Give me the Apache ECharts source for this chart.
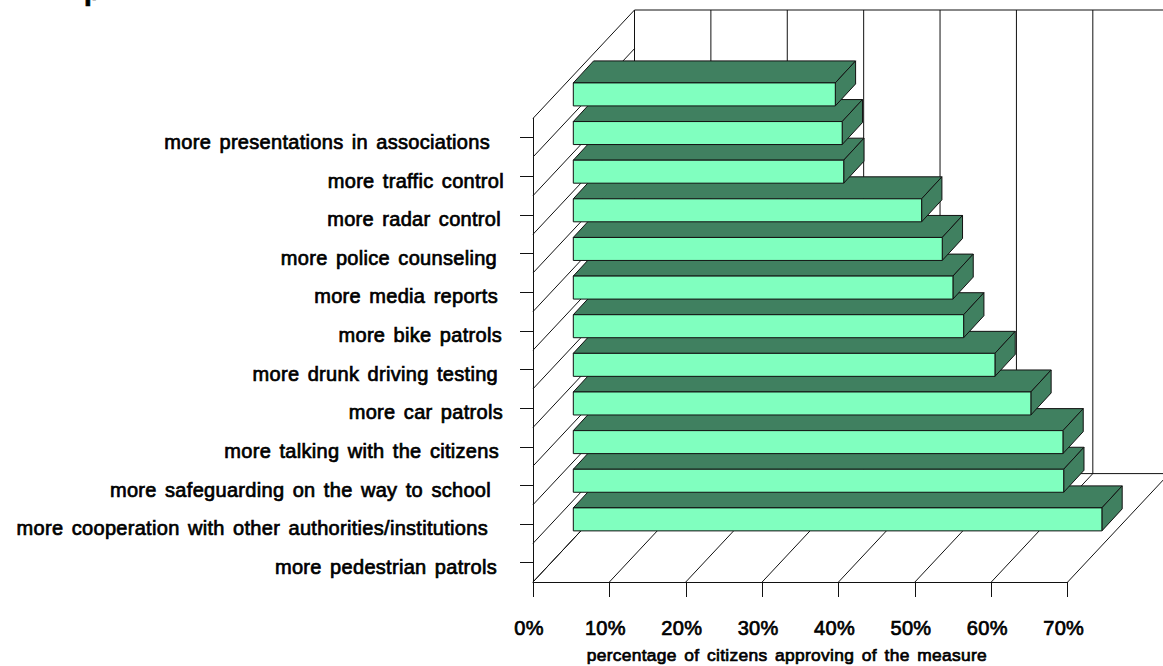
<!DOCTYPE html>
<html><head><meta charset="utf-8">
<style>html,body{margin:0;padding:0;background:#fff;overflow:hidden}#c{width:1163px;height:666px}text{letter-spacing:.3px;word-spacing:2.5px;stroke:#000;stroke-width:.7px}</style>
<script src="https://cdn.jsdelivr.net/npm/echarts@6/dist/echarts.min.js"></script>
</head><body><div id="c"></div>
<script>
// bottom row first
const categories = ['more pedestrian patrols','more cooperation with other authorities/institutions','more safeguarding on the way to school','more talking with the citizens','more car patrols','more drunk driving testing','more bike patrols','more media reports','more police counseling','more radar control','more traffic control','more presentations in associations'];
const approval = [69.2,64.2,64.1,59.9,55.2,51.1,49.7,48.3,45.6,35.4,35.2,34.3];
const xTicks = [0,10,20,30,40,50,60,70];
const clippedTitle = 'p';
const xName = 'percentage of citizens approving of the measure';

const FONT = '"Liberation Sans",Arial,sans-serif';
const labelInset = [7,16,13,5,1,6,2,6,7,3,0,14];
const wall = [101.5,-108.4], barNear = [40.3,-43.3], barDepth = [20.3,-22], barH = 23;
const LINE = '#111', FRONT = '#80ffbf', DARK = '#408060';
const line = (a,b) => ({type:'line',shape:{x1:a[0],y1:a[1],x2:b[0],y2:b[1]},style:{stroke:LINE,lineWidth:1,fill:null},silent:true});
const off = (p,d) => [p[0]+d[0],p[1]+d[1]];
const poly = (pts,fill) => ({type:'polygon',shape:{points:pts},style:{fill:fill,stroke:LINE,lineWidth:1},silent:true});

const chart = echarts.init(document.getElementById('c'),null,{renderer:'svg',width:1163,height:666});
chart.setOption({
  animation:false,
  backgroundColor:'#fff',
  title:{text:clippedTitle,left:84,top:-24,textStyle:{fontFamily:FONT,fontSize:28,fontWeight:'bold',color:'#000'},padding:0},
  grid:[
    {left:533,top:118.4,width:534.7,height:463.6,outerBoundsMode:'none',containLabel:false},
    // same plot, a few pixels lower: carries the category labels, which sit below their ticks
    {left:533,top:122.6,width:534.7,height:463.6,outerBoundsMode:'none',containLabel:false}
  ],
  xAxis:[
    {type:'value',gridIndex:0,min:0,max:70,interval:10,
    axisLine:{show:true,lineStyle:{color:LINE,width:1}},
    axisTick:{show:true,length:15,lineStyle:{color:LINE,width:1}},
    splitLine:{show:false},
    axisLabel:{show:true,formatter:'{value}%',margin:36,fontFamily:FONT,fontSize:20,fontWeight:'normal',color:'#000',padding:[0,8,0,0],hideOverlap:false},
    name:xName,nameLocation:'middle',nameGap:64,
    nameTextStyle:{fontFamily:FONT,fontSize:17.4,fontWeight:'normal',color:'#000',padding:[0,27,0,0]}
    },
    {type:'value',gridIndex:1,min:0,max:70,show:false}
  ],
  yAxis:[
    {type:'category',gridIndex:0,data:categories,
    axisLine:{show:true,lineStyle:{color:LINE,width:1}},
    axisTick:{show:true,alignWithLabel:true,length:13,lineStyle:{color:LINE,width:1}},
    splitLine:{show:false},
    axisLabel:{show:false}
    },
    {type:'category',gridIndex:1,
    data:categories.map((c,i)=>({value:c,textStyle:{padding:[0,labelInset[i],0,0]}})),
    axisLine:{show:false},axisTick:{show:false},splitLine:{show:false},
    axisLabel:{show:true,interval:0,margin:29,fontFamily:FONT,fontSize:20,fontWeight:'normal',color:'#000'}
    }
  ],
  series:[
    {type:'custom',name:'frame',coordinateSystem:'cartesian2d',clip:false,silent:true,z:1,
     data:xTicks.map(v=>[v,0]),encode:{x:0,y:1},
     renderItem(params,api){
       const v=api.value(0), half=api.size([0,1])[1]/2;
       const base=api.coord([v,0]); base[1]+=half;
       const top=[base[0],base[1]-12*2*half];
       const kids=[line(base,off(base,wall)),line(off(base,wall),off(top,wall))];
       if(v===0){kids.push(line(off(base,wall),off(api.coord([70,0]),[wall[0],wall[1]+half])));
                 kids.push(line(off(top,wall),off([api.coord([70,0])[0],top[1]],wall)));}
       return {type:'group',children:kids};
     }},
    {type:'custom',name:'wall',coordinateSystem:'cartesian2d',clip:false,silent:true,z:1,
     data:categories.map((c,i)=>[0,i]),encode:{x:0,y:1},
     renderItem(params,api){
       const half=api.size([0,1])[1]/2, c=api.coord([0,api.value(1)]);
       const kids=[line([c[0],c[1]+half],off([c[0],c[1]+half],wall))];
       if(api.value(1)===categories.length-1) kids.push(line([c[0],c[1]-half],off([c[0],c[1]-half],wall)));
       return {type:'group',children:kids};
     }},
    {type:'custom',name:'approval',coordinateSystem:'cartesian2d',clip:false,silent:true,z:3,
     data:approval.map((v,i)=>[v,i]),encode:{x:0,y:1},
     renderItem(params,api){
       const a=api.coord([0,api.value(1)]), b=api.coord([api.value(0),api.value(1)]);
       const l=a[0]+barNear[0], r=b[0]+barNear[0], cy=a[1]+barNear[1], t=cy-barH/2, m=cy+barH/2;
       const dx=barDepth[0], dy=barDepth[1];
       return {type:'group',children:[
         poly([[l,t],[l+dx,t+dy],[r+dx,t+dy],[r,t]],DARK),
         poly([[r,t],[r+dx,t+dy],[r+dx,m+dy],[r,m]],DARK),
         poly([[l,t],[r,t],[r,m],[l,m]],FRONT)
       ]};
     }}
  ]
});
</script></body></html>
